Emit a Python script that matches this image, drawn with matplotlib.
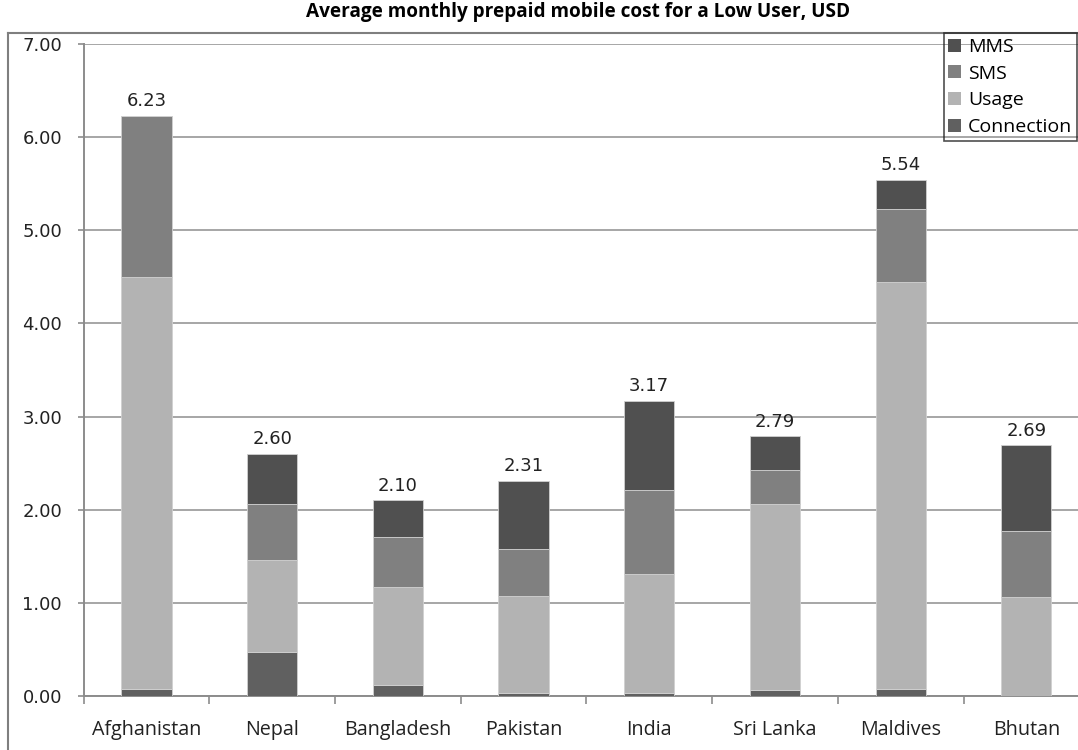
import matplotlib
matplotlib.use("Agg")
import matplotlib.pyplot as plt
import numpy as np
from matplotlib.lines import Line2D
from matplotlib.patches import Patch

countries = ["Afghanistan", "Nepal", "Bangladesh", "Pakistan", "India", "Sri Lanka", "Maldives", "Bhutan"]
connection = [0.07, 0.47, 0.12, 0.03, 0.03, 0.06, 0.07, 0.00]
usage = [4.43, 0.99, 1.05, 1.04, 1.28, 2.00, 4.38, 1.06]
sms = [1.73, 0.60, 0.54, 0.51, 0.90, 0.37, 0.78, 0.71]
mms = [0.00, 0.54, 0.39, 0.73, 0.96, 0.36, 0.31, 0.92]
yticks = [0, 1, 2, 3, 4, 5, 6, 7]
title = "Average monthly prepaid mobile cost for a Low User, USD"

col_conn = "#606060"
col_usage = "#b3b3b3"
col_sms = "#808080"
col_mms = "#505050"

plt.rcParams['font.family'] = ['Open Sans', 'DejaVu Sans']

W, H = 1078, 750
fig = plt.figure(figsize=(W / 100, H / 100), dpi=100)
left_px, right_px, top_px, bot_px = 83.6, 1089.2, 44, 696
ax = fig.add_axes([left_px / W, 1 - bot_px / H, (right_px - left_px) / W, (bot_px - top_px) / H])

x = np.arange(len(countries))
conn_a = np.array(connection)
usage_a = np.array(usage)
sms_a = np.array(sms)
mms_a = np.array(mms)
bw = 0.4
ekw = dict(edgecolor="#d0d0d0", linewidth=0.6, zorder=3)
ax.bar(x, conn_a, bw, color=col_conn, **ekw)
ax.bar(x, usage_a, bw, bottom=conn_a, color=col_usage, **ekw)
ax.bar(x, sms_a, bw, bottom=conn_a + usage_a, color=col_sms, **ekw)
ax.bar(x, mms_a, bw, bottom=conn_a + usage_a + sms_a, color=col_mms, **ekw)

totals = conn_a + usage_a + sms_a + mms_a
for xi, t in zip(x, totals):
    ax.annotate(f"{t:.2f}", (xi, t), xytext=(0, 4), textcoords="offset points",
                ha="center", va="bottom", fontsize=13, color="#222222",
                family=['DejaVu Sans'])

ax.set_xlim(-0.5, len(countries) - 0.5)
ax.set_ylim(0, 7)
ax.set_yticks(yticks)
ax.set_yticklabels([f"{v:.2f}" for v in yticks], family=['DejaVu Sans'], fontsize=13)
ax.yaxis.grid(True, color="#a6a6a6", linewidth=1.4, zorder=0)
ax.set_axisbelow(True)

ax.set_xticks(x)
ax.set_xticklabels(countries, fontsize=14.2)
ax.set_xticks(np.arange(len(countries) + 1) - 0.5, minor=True)
ax.tick_params(axis="x", which="major", length=0, pad=17, colors="#222222")
ax.tick_params(axis="x", which="minor", length=6, width=1.2, color="#8c8c8c")
ax.tick_params(axis="y", length=4.5, width=1.2, color="#8c8c8c", labelcolor="#222222", pad=11)

for s in ["top", "right"]:
    ax.spines[s].set_visible(False)
for s in ["left", "bottom"]:
    ax.spines[s].set_color("#8c8c8c")
    ax.spines[s].set_linewidth(1.4)

# outer chart frame
fig.add_artist(Line2D([8 / W, 8 / W], [0, 1 - 33 / H], transform=fig.transFigure, color="#7f7f7f", linewidth=1.5))
fig.add_artist(Line2D([8 / W, 1], [1 - 33 / H, 1 - 33 / H], transform=fig.transFigure, color="#7f7f7f", linewidth=1.5))

fig.text(578 / W, 1 - 12 / H, title, ha="center", va="center", fontsize=13.7, fontweight="bold")

handles = [Patch(facecolor=col_mms, label="MMS"), Patch(facecolor=col_sms, label="SMS"),
           Patch(facecolor=col_usage, label="Usage"), Patch(facecolor=col_conn, label="Connection")]
leg = fig.legend(handles=handles, loc="upper right", bbox_to_anchor=(1077 / W, 1 - 33 / H),
                 frameon=True, fancybox=False, fontsize=14, handlelength=0.65, handleheight=0.65,
                 handletextpad=0.35, labelspacing=0.45, borderpad=0.25, borderaxespad=0)
leg.get_frame().set_edgecolor("#222222")
leg.get_frame().set_facecolor("none")
leg.get_frame().set_linewidth(1.2)

fig.savefig("out.png", dpi=100)
